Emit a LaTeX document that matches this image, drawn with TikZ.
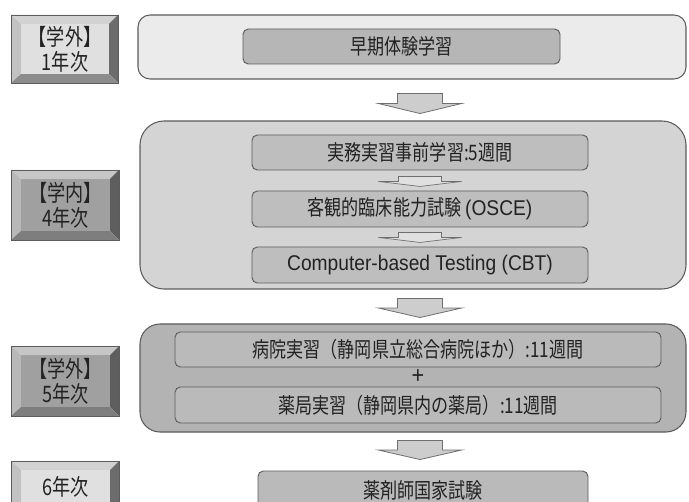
\documentclass[tikz,border=0pt]{standalone}
\usepackage{fontspec}
\setmainfont{Liberation Sans}[FakeStretch=0.9]
\newfontfamily\jpfont[FakeStretch=0.8]{Noto Sans CJK JP}
\usetikzlibrary{fit,calc}

\definecolor{frameline}{HTML}{5C5C5C}
\definecolor{inktext}{HTML}{222222}
\definecolor{rowonefill}{HTML}{EBEBEB}
\definecolor{rowtwofill}{HTML}{D4D4D4}
\definecolor{rowthreefill}{HTML}{B3B3B3}
\definecolor{stageonefill}{HTML}{B6B6B6}
\definecolor{stagetwofill}{HTML}{BEBEBE}
\definecolor{stagethreefill}{HTML}{BABABA}
\definecolor{arrowfill}{HTML}{CDCDCD}
\definecolor{arrowline}{HTML}{6E6E6E}
% bevel colours of the year boxes
\definecolor{ltface}{HTML}{E0E0E0}
\definecolor{lttop}{HTML}{D2D2D2}
\definecolor{ltleft}{HTML}{C2C2C2}
\definecolor{ltright}{HTML}{6C6C6C}
\definecolor{ltbot}{HTML}{8C8C8C}
\definecolor{dkface}{HTML}{A0A0A0}
\definecolor{dktop}{HTML}{C6C6C6}
\definecolor{dkleft}{HTML}{B8B8B8}
\definecolor{dkright}{HTML}{5E5E5E}
\definecolor{dkbot}{HTML}{7E7E7E}

% name, x1, y1, x2, y2, colour set, text
\newcommand{\yearbox}[7]{%
  \fill[#6top] (#2,#3) -- (#4,#3) -- ({#4-9},{#3+9}) -- ({#2+10},{#3+9}) -- cycle;
  \fill[#6left] (#2,#3) -- ({#2+10},{#3+9}) -- ({#2+10},{#5-9}) -- (#2,#5) -- cycle;
  \fill[#6right] (#4,#3) -- (#4,#5) -- ({#4-9},{#5-9}) -- ({#4-9},{#3+9}) -- cycle;
  \fill[#6bot] (#2,#5) -- (#4,#5) -- ({#4-9},{#5-9}) -- ({#2+10},{#5-9}) -- cycle;
  \node[inner sep=0pt, fill=#6face, fit={({#2+10},{#3+9}) ({#4-9},{#5-9})}] (#1) {};
  \node[facetext] (#1t) at (#1.center) {#7};
  \draw[frameline, line width=0.6pt] (#2,#3) rectangle (#4,#5);
}
% body half width, head half width, step
\newcommand{\flowdown}[3]{%
  (-#1,0) -- (#1,0) -- (#1,#3) -- (#2,#3) -- (0,{2*#3}) -- (-#2,#3) -- (-#1,#3) -- cycle
}

\begin{document}
\begin{tikzpicture}[x=0.75pt,y=-0.75pt,
  every node/.style={text=inktext},
  bigbox/.style={draw=frameline, line width=0.8pt, inner sep=0pt},
  stagebox/.style={draw=frameline, line width=0.7pt, rounded corners=4pt, inner sep=0pt},
  stagetext/.style={inner sep=0pt, font=\jpfont\fontsize{16}{19}\selectfont},
  facetext/.style={inner sep=0pt, align=center, font=\jpfont\fontsize{17}{18.75}\selectfont},
  flowarrow/.style={fill=arrowfill, draw=arrowline, line width=0.6pt},
  thinarrow/.style={fill=ltface, draw=arrowline, line width=0.5pt}]
\useasboundingbox (0,0) rectangle (689,502);
\clip (0,0) rectangle (689,502);

% year boxes on the left
\yearbox{yb1}{11}{15}{118}{83}{lt}{【学外】\\1年次}
\yearbox{yb2}{11}{170}{119}{240}{dk}{【学内】\\4年次}
\yearbox{yb3}{11}{346}{119}{416}{dk}{【学外】\\5年次}
\yearbox{yb4}{11}{461}{119}{513}{lt}{6年次}

% 1st year
\node[bigbox, rounded corners=9pt, fill=rowonefill, fit={(138,15) (686,79)}] (yr1) {};
\node[stagebox, fill=stageonefill, fit={(243,29) (560,64)}] (st1) {};
\node[stagetext] (st1t) at (st1.center) {早期体験学習};

% 4th year
\node[bigbox, rounded corners=18pt, fill=rowtwofill, fit={(140,121) (686,289)}] (yr2) {};
\node[stagebox, fill=stagetwofill, fit={(252,135) (588,170)}] (st2a) {};
\node[stagebox, fill=stagetwofill, fit={(252,191) (588,227)}] (st2b) {};
\node[stagebox, fill=stagetwofill, fit={(252,247) (588,283)}] (st2c) {};
\node[stagetext] (st2at) at (st2a.center) {実務実習事前学習:5週間};
\node[stagetext] (st2bt) at (st2b.center) {客観的臨床能力試験 {\rmfamily\fontsize{16}{19}\selectfont (OSCE)}};
\node[stagetext, font=\rmfamily\fontsize{16}{19}\selectfont] (st2ct) at (st2c.center) {Computer-based Testing (CBT)};

% 5th year
\node[bigbox, rounded corners=15pt, fill=rowthreefill, fit={(140,324) (686,432)}] (yr3) {};
\node[stagebox, fill=stagethreefill, fit={(175,332) (661,367)}] (st3a) {};
\node[stagebox, fill=stagethreefill, fit={(175,387) (661,423)}] (st3b) {};
\node[stagetext] (st3at) at (st3a.center) {病院実習（静岡県立総合病院ほか）:11週間};
\node[stagetext] (st3bt) at (st3b.center) {薬局実習（静岡県内の薬局）:11週間};
\node[font=\rmfamily\fontsize{18}{20}\selectfont, inner sep=0pt] (plus) at ($(st3a.south)!0.5!(st3b.north)$) {+};

% 6th year
\node[stagebox, fill=stagethreefill, fit={(258,471) (588,509)}] (st4) {};
\node[stagetext] (st4t) at (st4.center) {薬剤師国家試験};

% arrows between the stages
\draw[flowarrow, shift={(yr1.south -| st2a.center)}, yshift=-10.5pt] \flowdown{22.5}{41.5}{10};
\draw[flowarrow, shift={(yr2.south -| st2a.center)}, yshift=-6.75pt] \flowdown{22.5}{41.5}{9.5};
\draw[flowarrow, shift={(yr3.south -| st2a.center)}, yshift=-6pt] \flowdown{22.5}{41.5}{9.5};
\draw[thinarrow, shift={(st2a.south)}, yshift=-4.5pt] \flowdown{21.5}{41.5}{5};
\draw[thinarrow, shift={(st2b.south)}, yshift=-3.75pt] \flowdown{21.5}{41.5}{5};
\end{tikzpicture}
\end{document}
